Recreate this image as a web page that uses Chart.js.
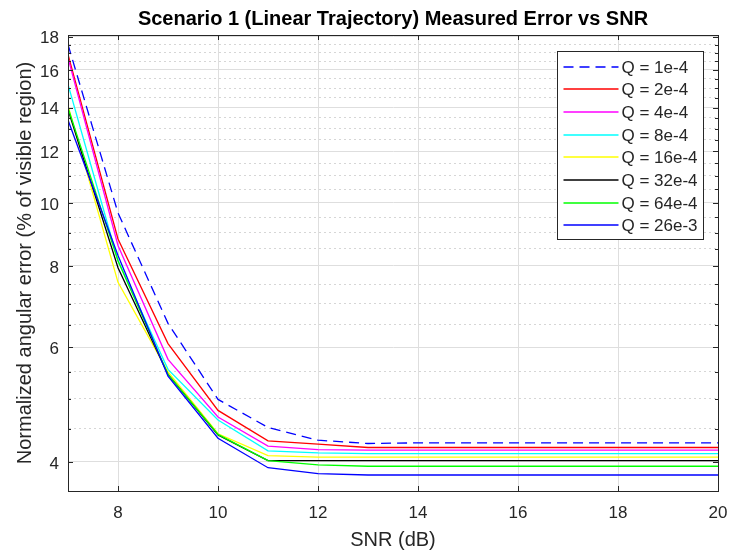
<!DOCTYPE html>
<html>
<head>
<meta charset="utf-8">
<script src="https://cdn.jsdelivr.net/npm/chart.js@4/dist/chart.umd.min.js"></script>
<style>
    body { margin: 0; background: #ffffff; }
    .chart-box { width: 730px; height: 552px; position: relative; }
</style>
</head>
<body>
<div class="chart-box">
    <canvas id="errChart"></canvas>
</div>
<script>
// SNR values (dB)
let snr = [7, 8, 9, 10, 11, 12, 13, 14, 15, 16, 17, 18, 19, 20];

// series (% of visible region)
let q1e4 = [17.5, 9.65, 6.53, 4.99, 4.52, 4.32, 4.27, 4.28, 4.28, 4.28, 4.28, 4.28, 4.28, 4.28];
let q2e4 = [16.9, 8.8, 6.08, 4.80, 4.31, 4.26, 4.21, 4.21, 4.21, 4.21, 4.21, 4.21, 4.21, 4.21];
let q4e4 = [16.7, 8.6, 5.75, 4.69, 4.23, 4.18, 4.17, 4.17, 4.17, 4.17, 4.17, 4.17, 4.17, 4.17];
let q8e4 = [15.2, 8.15, 5.55, 4.64, 4.16, 4.13, 4.12, 4.12, 4.12, 4.12, 4.12, 4.12, 4.12, 4.12];
let q16e4 = [14.1, 7.55, 5.5, 4.42, 4.09, 4.07, 4.07, 4.07, 4.07, 4.07, 4.07, 4.07, 4.07, 4.07];
let q32e4 = [13.9, 7.95, 5.45, 4.40, 4.02, 4.02, 4.02, 4.02, 4.02, 4.02, 4.02, 4.02, 4.02, 4.02];
let q64e4 = [14.0, 8.15, 5.45, 4.41, 4.02, 3.96, 3.94, 3.94, 3.94, 3.94, 3.94, 3.94, 3.94, 3.94];
let q26e3 = [13.4, 8.3, 5.42, 4.35, 3.92, 3.84, 3.82, 3.82, 3.82, 3.82, 3.82, 3.82, 3.82, 3.82];

let qLabels = ['Q = 1e-4', 'Q = 2e-4', 'Q = 4e-4', 'Q = 8e-4', 'Q = 16e-4', 'Q = 32e-4', 'Q = 64e-4', 'Q = 26e-3'];
let qColors = ['#0000ff', '#ff0000', '#ff00ff', '#00ffff', '#ffff00', '#000000', '#00ff00', '#0000ff'];
let qSeries = [q1e4, q2e4, q4e4, q8e4, q16e4, q32e4, q64e4, q26e3];

// axis ticks
let xTicks = [8, 10, 12, 14, 16, 18, 20];
let yTickLabels = [4, 6, 8, 10, 12, 14, 16, 18];
let yMinorTicks = [4.5, 5, 5.5, 6.5, 7, 7.5, 8.5, 9, 9.5, 10.5, 11, 11.5, 12.5, 13, 13.5, 14.5, 15, 15.5, 16.5, 17, 17.5];

const FONT = '"Liberation Sans", Arial, Helvetica, sans-serif';
const AXIS_COLOR = '#262626';

function isMajor(v) {
    return yTickLabels.indexOf(Math.round(v * 100) / 100) !== -1;
}

// box around the axes plus inward tick marks (matlab style)
const boxPlugin = {
    id: 'boxPlugin',
    afterDatasetsDraw(chart) {
        let ctx = chart.ctx;
        let a = chart.chartArea;
        let xs = chart.scales.x;
        let ys = chart.scales.y;
        ctx.save();
        ctx.strokeStyle = AXIS_COLOR;
        ctx.lineWidth = 1;
        ctx.beginPath();
        xTicks.forEach(function (t) {
            let px = Math.round(xs.getPixelForValue(t)) + 0.5;
            ctx.moveTo(px, a.bottom);
            ctx.lineTo(px, a.bottom - 5);
            ctx.moveTo(px, a.top);
            ctx.lineTo(px, a.top + 5);
        });
        yTickLabels.concat(yMinorTicks).forEach(function (t) {
            let py = Math.round(ys.getPixelForValue(t)) + 0.5;
            let len = isMajor(t) ? 5 : 3;
            ctx.moveTo(a.left, py);
            ctx.lineTo(a.left + len, py);
            ctx.moveTo(a.right, py);
            ctx.lineTo(a.right - len, py);
        });
        ctx.stroke();
        ctx.strokeRect(Math.round(a.left) + 0.5, Math.round(a.top) + 0.5,
            Math.round(a.right - a.left), Math.round(a.bottom - a.top));
        ctx.restore();
    }
};

// legend box inside the top right corner
const legendPlugin = {
    id: 'legendPlugin',
    afterDraw(chart) {
        let ctx = chart.ctx;
        let a = chart.chartArea;
        let w = 146, h = 188;
        let left = Math.round(a.right - 161) + 0.5;
        let top = Math.round(a.top + 16) + 0.5;
        ctx.save();
        ctx.fillStyle = '#ffffff';
        ctx.fillRect(left, top, w, h);
        ctx.strokeStyle = AXIS_COLOR;
        ctx.lineWidth = 1;
        ctx.strokeRect(left, top, w, h);
        ctx.font = '17px ' + FONT;
        ctx.textBaseline = 'middle';
        ctx.textAlign = 'left';
        chart.data.datasets.forEach(function (ds, i) {
            let y = Math.round(top + 15 + i * 22.7);
            ctx.strokeStyle = ds.borderColor;
            ctx.lineWidth = ds.borderWidth;
            ctx.setLineDash(ds.borderDash || []);
            ctx.beginPath();
            ctx.moveTo(left + 6, y);
            ctx.lineTo(left + 61, y);
            ctx.stroke();
            ctx.setLineDash([]);
            ctx.fillStyle = AXIS_COLOR;
            ctx.fillText(ds.label, left + 64, y + 1);
        });
        ctx.restore();
    }
};

let datasets = qSeries.map(function (vals, i) {
    return {
        label: qLabels[i],
        data: vals.map(function (v, j) { return { x: snr[j], y: v }; }),
        borderColor: qColors[i],
        backgroundColor: qColors[i],
        borderWidth: 1.3,
        borderDash: i === 0 ? [10, 6] : [],
        pointRadius: 0,
        tension: 0,
        fill: false,
        order: 8 - i
    };
});

let chart = new Chart(document.getElementById('errChart').getContext('2d'), {
    type: 'line',
    data: {
        labels: snr,
        datasets: datasets
    },
    plugins: [boxPlugin, legendPlugin],
    options: {
        responsive: true,
        maintainAspectRatio: false,
        animation: false,
        layout: { padding: { left: 0, right: 12, top: 0, bottom: 0 } },
        plugins: {
            legend: { display: false },
            tooltip: { enabled: false },
            title: {
                display: true,
                text: 'Scenario 1 (Linear Trajectory) Measured Error vs SNR',
                fullSize: false,
                color: '#000000',
                font: { family: FONT, size: 20, weight: 'bold' },
                padding: { top: 7, bottom: 4 }
            }
        },
        scales: {
            x: {
                type: 'linear',
                min: 7,
                max: 20,
                afterBuildTicks: function (scale) {
                    scale.ticks = xTicks.map(function (v) { return { value: v }; });
                },
                afterFit: function (scale) {
                    scale.height = 61;
                    scale.paddingLeft = 0;
                    scale.paddingRight = 0;
                },
                ticks: {
                    autoSkip: false,
                    maxRotation: 0,
                    padding: 12,
                    color: AXIS_COLOR,
                    font: { family: FONT, size: 17 }
                },
                grid: { color: '#dedede', lineWidth: 1, drawTicks: false },
                border: { display: true, color: AXIS_COLOR, width: 1 },
                title: {
                    display: true,
                    text: 'SNR (dB)',
                    color: AXIS_COLOR,
                    font: { family: FONT, size: 20 },
                    padding: { top: 0, bottom: 0 }
                }
            },
            y: {
                type: 'logarithmic',
                min: 3.61,
                max: 18.1,
                afterBuildTicks: function (scale) {
                    let all = yTickLabels.concat(yMinorTicks).sort(function (a, b) { return a - b; });
                    scale.ticks = all.map(function (v) { return { value: v }; });
                },
                afterFit: function (scale) {
                    scale.width = 68;
                },
                ticks: {
                    autoSkip: false,
                    padding: 9,
                    labelOffset: 2,
                    color: AXIS_COLOR,
                    font: { family: FONT, size: 17 },
                    callback: function (value) {
                        return isMajor(value) ? String(Math.round(value)) : '';
                    }
                },
                grid: {
                    lineWidth: 1,
                    drawTicks: false,
                    color: function (ctx) {
                        return ctx.tick && !isMajor(ctx.tick.value) ? '#d6d6d6' : '#dedede';
                    }
                },
                border: {
                    display: true,
                    color: AXIS_COLOR,
                    width: 1,
                    dash: function (ctx) {
                        return ctx.tick && !isMajor(ctx.tick.value) ? [2, 3] : [];
                    }
                },
                title: {
                    display: true,
                    text: 'Normalized angular error (% of visible region)',
                    color: AXIS_COLOR,
                    font: { family: FONT, size: 20 },
                    padding: { top: 13, bottom: 0 }
                }
            }
        }
    }
});
</script>
</body>
</html>
